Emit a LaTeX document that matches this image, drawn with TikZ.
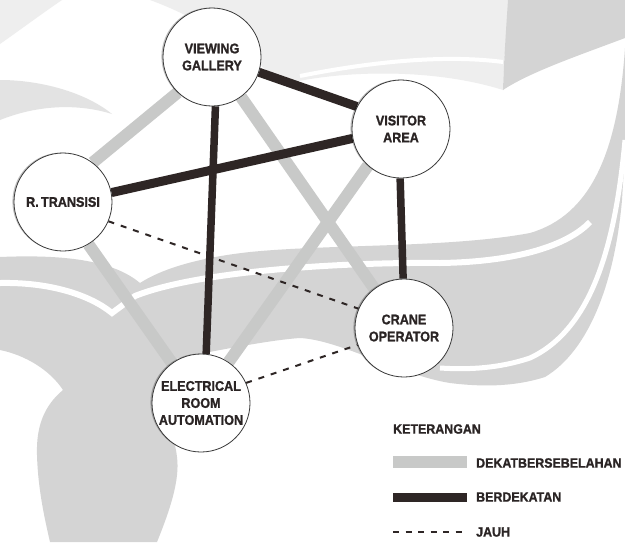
\documentclass[tikz,border=0pt]{standalone}
\usepackage{fontspec}
\newfontfamily\labelfont{Liberation Sans Bold}[FakeStretch=0.9, FakeBold=1.2]
\newfontfamily\legendfont{Liberation Sans Bold}[FakeStretch=0.92, FakeBold=1.2]
\usetikzlibrary{shapes.geometric,shadows}

\definecolor{txt}{HTML}{2A2424}
\definecolor{dkline}{HTML}{2E2625}
\definecolor{lgline}{HTML}{C8C9C8}
\definecolor{wmband}{HTML}{D4D4D4}
\definecolor{wmlight}{HTML}{EEEEEE}
\definecolor{wmmid}{HTML}{E3E3E3}
\definecolor{rimcol}{HTML}{3A3A3A}

\pgfdeclarelayer{wmlayer}
\pgfdeclarelayer{linklayer}
\pgfsetlayers{wmlayer,linklayer,main}

\begin{document}
\begin{tikzpicture}[x=1pt,y=-1pt,
  room/.style={circle, draw=rimcol, line width=0.8pt, fill=white,
    minimum size=98pt, inner sep=0pt, align=center,
    drop shadow={shadow xshift=-1.6pt, shadow yshift=0.4pt, fill=black, opacity=0.25},
    font=\labelfont\fontsize{14}{17}\selectfont, text=txt},
  adjlink/.style={line width=12pt, draw=lgline},
  closelink/.style={line width=9pt, draw=dkline},
  closethin/.style={line width=7.5pt, draw=dkline},
  farlink/.style={line width=2pt, draw=dkline, dash pattern=on 6pt off 7pt},
  legtext/.style={anchor=west, inner sep=0pt,
    font=\legendfont\fontsize{13.5}{15}\selectfont, text=txt}
]
\useasboundingbox (0,0) rectangle (625,542);

% ---- background emblem ----
\begin{pgfonlayer}{wmlayer}
\fill[white] (0,0) rectangle (625,542);
% light top sweep
\fill[wmlight] (150,0) -- (510,0) .. controls (506,30) and (504,60) .. (503,90)
  .. controls (440,70) and (350,68) .. (280,85)
  .. controls (255,55) and (205,20) .. (150,0) -- cycle;
\draw[white, line width=4pt] (300,76) .. controls (380,60) and (450,55) .. (503,62);
% top-left corner
\fill[wmlight] (0,0) -- (62,0) .. controls (40,15) and (20,30) .. (0,44) -- cycle;
% left crescent
\fill[wmmid] (0,80) .. controls (40,80) and (85,92) .. (112,114)
  .. controls (80,104) and (40,104) .. (0,120) -- cycle;
% top-right sickle
\fill[wmband] (508,0) -- (625,0) -- (625,38) .. controls (580,55) and (530,72) .. (503,90)
  .. controls (504,60) and (506,30) .. (508,0) -- cycle;
% sweeping bands and flame
\fill[wmband] (625,48) .. controls (618,150) and (592,215) .. (530,233)
  .. controls (450,248) and (330,244) .. (250,252)
  .. controls (195,258) and (160,270) .. (140,283)
  .. controls (115,262) and (70,254) .. (0,257)
  -- (0,350)
  .. controls (25,355) and (50,370) .. (63,390)
  .. controls (45,405) and (36,425) .. (37,455)
  .. controls (38,490) and (45,520) .. (50,542)
  -- (157,542)
  .. controls (170,510) and (180,480) .. (177,457)
  .. controls (174,430) and (160,415) .. (160,400)
  .. controls (162,380) and (168,362) .. (178,358)
  .. controls (220,350) and (270,340) .. (300,338)
  .. controls (340,340) and (400,375) .. (450,383)
  .. controls (490,388) and (520,385) .. (545,377)
  .. controls (590,350) and (615,280) .. (622,200)
  -- (625,150) -- cycle;
% white stripes inside the bands
\draw[white, line width=6pt, line join=miter]
  (0,283) .. controls (50,282) and (90,295) .. (112,313)
  -- (135,296) .. controls (200,270) and (350,262) .. (440,263)
  .. controls (510,262) and (565,248) .. (590,222);
\draw[white, line width=5pt]
  (625,140) .. controls (615,250) and (590,330) .. (530,358)
  .. controls (500,368) and (470,370) .. (440,368);
\end{pgfonlayer}

% ---- rooms ----
\node[room] (vg) at (212,57)  {VIEWING\\GALLERY};
\node[room] (va) at (401,129) {VISITOR\\AREA};
\node[room] (rt) at (63,202)  {R.\,TRANSISI};
\node[room] (co) at (404,328) {CRANE\\OPERATOR};
\node[room] (er) at (201,403) {ELECTRICAL\\ROOM\\AUTOMATION};

% ---- relations ----
\begin{pgfonlayer}{linklayer}
\draw[adjlink] (vg.226) -- (rt.53);
\draw[adjlink] (vg.-54) -- (co.127);
\draw[adjlink] (va.228) -- (er.56);
\draw[adjlink] (rt.-59) -- (er.126);
\draw[closelink] (vg.-18) -- (va.153);
\draw[closelink] (va.191) -- (rt.11);
\draw[closethin] (vg.-86) -- (er.84);
\draw[closethin] (va.-91) -- (co.91);
\draw[farlink] (rt.-23) -- (co.157);
\draw[farlink] (er.24) -- (co.200);
\end{pgfonlayer}

% ---- legend ----
\node[legtext] (lgtitle) at (393,429) {KETERANGAN};
\coordinate (k1a) at (393,462); \coordinate (k1b) at (467,462);
\coordinate (k2a) at (393,497); \coordinate (k2b) at (467,497);
\coordinate (k3a) at (393,532); \coordinate (k3b) at (463,532);
\draw[adjlink] (k1a) -- (k1b);
\draw[closelink] (k2a) -- (k2b);
\draw[line width=2pt, draw=dkline, dash pattern=on 6pt off 6.5pt] (k3a) -- (k3b);
\node[legtext] (lg1) at (476,463) {DEKATBERSEBELAHAN};
\node[legtext] (lg2) at (476,497) {BERDEKATAN};
\node[legtext] (lg3) at (476,532) {JAUH};
\end{tikzpicture}
\end{document}
